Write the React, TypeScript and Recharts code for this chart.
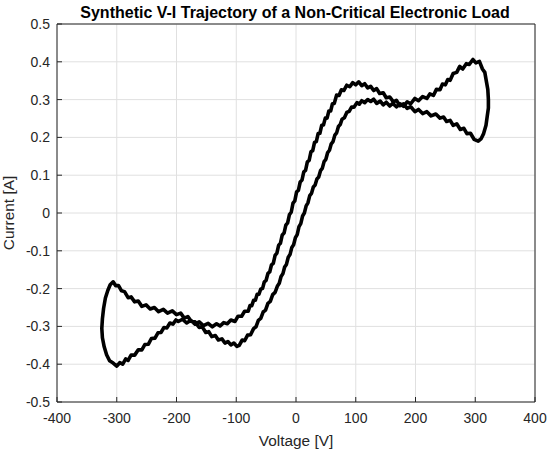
import { CartesianGrid, Line, LineChart, XAxis, YAxis } from "recharts";

// V-I trajectory in drawing order (one closed loop)
const voltage = [
  322, 321, 319, 316, 312, 307, 301, 296, 290, 285, 279, 274, 269, 263, 258, 254, 250, 245, 241, 235,
  230, 224, 219, 212, 205, 199, 192, 186, 180, 174, 168, 162, 157, 151, 146, 141, 135, 130, 125,
  120, 115, 110, 106, 102, 97, 93, 89, 85, 81, 77, 74, 71, 68, 65, 62, 59, 56, 53, 50, 47, 44, 41, 38,
  35, 32, 29, 26, 23, 20, 17, 14, 11, 8, 5, 2, -1, -4, -7, -10, -13, -16, -19, -22, -25, -28, -31, -35,
  -39, -43, -47, -51, -55, -59, -63, -67, -71, -76, -81, -86, -90, -95, -99,
  -104, -109, -114, -119, -124, -130, -135, -141, -146, -151, -157, -162, -169, -175, -181, -187, -193,
  -200, -207, -215, -222, -230, -237, -244, -251, -258, -264, -270, -276, -281, -287, -292, -297, -302, -306,
  -311, -315, -319, -322, -324, -325, -324, -321, -317, -312, -306, -300,
  -295, -290, -285, -281, -276, -270, -264, -258, -253, -247, -242, -236, -231, -226, -221, -216, -211,
  -206, -201, -197, -190, -183, -176, -169, -162, -155, -147, -140, -133, -127, -121, -115, -109, -102,
  -97, -91, -86, -80,
  -77, -74, -71, -68, -65, -62, -59, -56, -53, -50, -47, -44, -41, -38, -35, -32, -29, -26, -23, -20,
  -17, -14, -11, -8, -5, -2, 1, 4, 7, 10, 13, 16, 19, 22, 25, 28, 31, 34, 37, 40, 43, 46, 49, 52, 55, 58,
  61, 64, 68, 72, 76, 80, 85, 90, 95, 100, 105, 110,
  115, 120, 125, 130, 135, 140, 146, 151, 157, 163, 168, 174, 180, 186, 192, 199, 205, 212, 219, 226,
  234, 241, 247, 252, 258, 263, 269, 275, 281, 286, 292, 298, 305,
  310, 314, 318, 320, 322, 322,
];

const current = [
  0.300, 0.327, 0.345, 0.372, 0.381, 0.401, 0.397, 0.406, 0.393, 0.395, 0.381, 0.388, 0.372, 0.369, 0.351,
  0.353, 0.339, 0.341, 0.326, 0.327, 0.311, 0.315, 0.303, 0.308, 0.297, 0.303, 0.289, 0.294, 0.282, 0.289,
  0.281, 0.290, 0.283, 0.293, 0.286, 0.296, 0.290, 0.301, 0.295,
  0.300, 0.292, 0.297, 0.288, 0.292, 0.280, 0.280, 0.269, 0.266, 0.252, 0.248, 0.234, 0.229, 0.212, 0.206,
  0.189, 0.183, 0.166, 0.160, 0.142, 0.136, 0.118, 0.112, 0.095, 0.090, 0.074, 0.069, 0.052, 0.046, 0.027,
  0.019, 0.000, -0.008, -0.028, -0.036, -0.057, -0.065, -0.084, -0.091, -0.110, -0.117, -0.136, -0.143,
  -0.161, -0.168, -0.186, -0.193, -0.210, -0.216, -0.234, -0.239, -0.257, -0.262, -0.279, -0.284, -0.301,
  -0.306, -0.322, -0.323, -0.338, -0.336, -0.350, -0.353,
  -0.344, -0.349, -0.340, -0.344, -0.333, -0.336, -0.324, -0.327, -0.314, -0.316, -0.301, -0.303, -0.288,
  -0.287, -0.274, -0.278, -0.265, -0.269, -0.259, -0.265, -0.255, -0.261, -0.250, -0.254, -0.243, -0.247,
  -0.233, -0.235, -0.222, -0.224, -0.208, -0.206, -0.192, -0.192, -0.182,
  -0.190, -0.205, -0.225, -0.252, -0.280, -0.305, -0.330, -0.354, -0.375, -0.391, -0.397, -0.405,
  -0.396, -0.400, -0.386, -0.390, -0.376, -0.376, -0.362, -0.362, -0.348, -0.347, -0.332, -0.331, -0.317,
  -0.316, -0.303, -0.304, -0.291, -0.294, -0.283, -0.287, -0.281, -0.291, -0.284, -0.294, -0.288, -0.298,
  -0.292, -0.301, -0.293, -0.299, -0.290, -0.293, -0.283, -0.287, -0.273, -0.273, -0.260, -0.260,
  -0.245, -0.245, -0.231, -0.231, -0.215, -0.215, -0.201, -0.200, -0.182, -0.178, -0.160, -0.156, -0.137,
  -0.133, -0.112, -0.106, -0.085, -0.080, -0.058, -0.053, -0.032, -0.026, -0.004, 0.002, 0.026, 0.032,
  0.056, 0.060, 0.082, 0.087, 0.109, 0.113, 0.135, 0.139, 0.162, 0.165, 0.187, 0.189, 0.210, 0.211, 0.232,
  0.233, 0.251, 0.251, 0.270, 0.270, 0.289, 0.290, 0.312, 0.311, 0.326, 0.324, 0.338, 0.334, 0.345, 0.339,
  0.347, 0.337,
  0.342, 0.331, 0.335, 0.324, 0.329, 0.316, 0.318, 0.305, 0.307, 0.294, 0.298, 0.284, 0.289, 0.277, 0.281,
  0.268, 0.274, 0.263, 0.268, 0.257, 0.262, 0.251, 0.254, 0.242, 0.245, 0.232, 0.236, 0.221, 0.224, 0.210,
  0.211, 0.195, 0.190,
  0.197, 0.210, 0.232, 0.255, 0.278, 0.300,
];

const xTicks = [-400, -300, -200, -100, 0, 100, 200, 300, 400];
const yTicks = [-0.5, -0.4, -0.3, -0.2, -0.1, 0, 0.1, 0.2, 0.3, 0.4, 0.5];

const data = voltage.map((v, i) => ({ v, a: current[i] }));

const font = "'Liberation Sans', Arial, Helvetica, sans-serif";
const ink = "#262626";
const tickStyle = { fontSize: 14, fill: ink, fontFamily: font };

export default function App() {
  return (
    <div style={{ position: "absolute", left: 0, top: 0, width: 550, height: 453, background: "#fff" }}>
      <LineChart width={550} height={453} data={data} margin={{ top: 23, right: 14, bottom: 21, left: 0 }}>
        <CartesianGrid stroke="#e0e0e0" />
        <XAxis
          dataKey="v"
          type="number"
          domain={[-400, 400]}
          ticks={xTicks}
          height={30}
          tickSize={-5}
          tickMargin={16}
          tick={tickStyle}
          stroke={ink}
        />
        <XAxis
          xAxisId="top"
          orientation="top"
          dataKey="v"
          type="number"
          domain={[-400, 400]}
          ticks={xTicks}
          height={1}
          tickSize={-5}
          tick={false}
          stroke={ink}
        />
        <YAxis
          type="number"
          domain={[-0.5, 0.5]}
          ticks={yTicks}
          width={57}
          tickSize={-5}
          tickMargin={12}
          tick={tickStyle}
          tickFormatter={(t: number) => String(t)}
          stroke={ink}
        />
        <YAxis
          yAxisId="right"
          orientation="right"
          type="number"
          domain={[-0.5, 0.5]}
          ticks={yTicks}
          width={1}
          tickSize={-5}
          tick={false}
          stroke={ink}
        />
        <Line
          type="linear"
          dataKey="a"
          stroke="#000"
          strokeWidth={3.6}
          strokeLinejoin="round"
          dot={false}
          activeDot={false}
          isAnimationActive={false}
        />
      </LineChart>
      <svg
        width={550}
        height={453}
        style={{ position: "absolute", left: 0, top: 0, pointerEvents: "none" }}
        fontFamily={font}
        fill={ink}
      >
        <text x={295} y={18} textAnchor="middle" fontSize={16} fontWeight="bold" fill="#000">
          Synthetic V-I Trajectory of a Non-Critical Electronic Load
        </text>
        <text x={296} y={446} textAnchor="middle" fontSize={15.4}>
          Voltage [V]
        </text>
        <text x={14} y={213} textAnchor="middle" fontSize={15.4} transform="rotate(-90 14 213)">
          Current [A]
        </text>
      </svg>
    </div>
  );
}
